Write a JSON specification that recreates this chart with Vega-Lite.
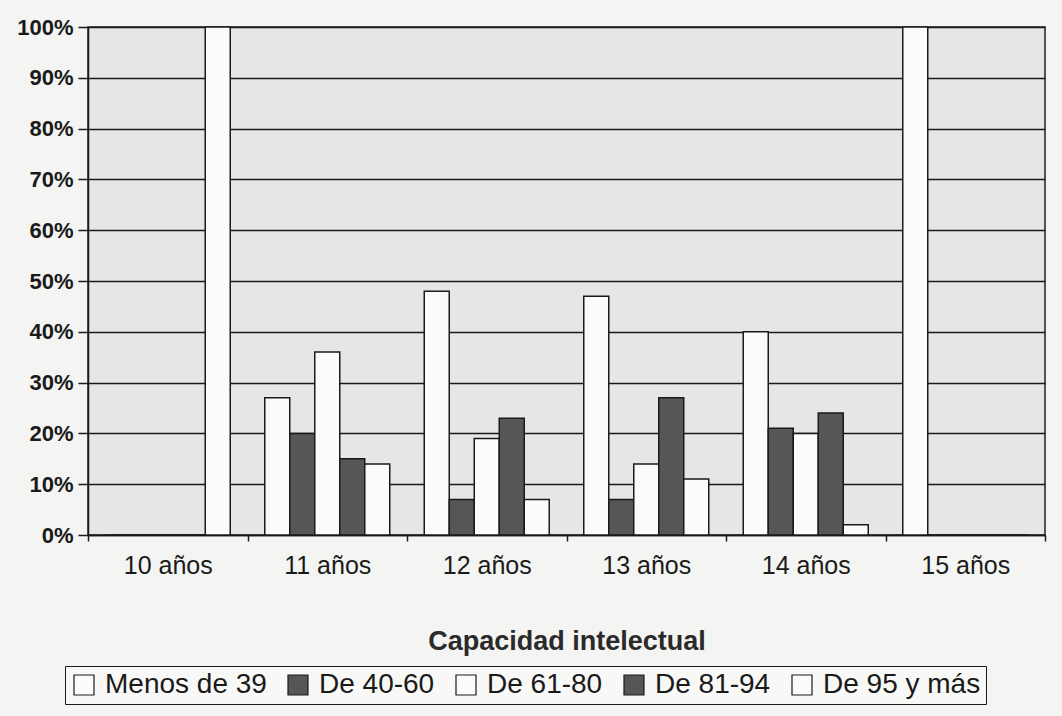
{
  "$schema": "https://vega.github.io/schema/vega-lite/v6.json",
  "autosize": "none",
  "width": 957,
  "height": 508,
  "padding": {"left": 88, "top": 27, "right": 17, "bottom": 181},
  "background": "#f4f4f2",
  "config": {
    "font": "Liberation Sans",
    "view": {"fill": "#e6e6e4", "stroke": "#222", "strokeWidth": 1.5}
  },
  "data": {
    "values": [
      {"edad": "10 años", "grupo": "Menos de 39", "valor": 0},
      {"edad": "10 años", "grupo": "De 40-60", "valor": 0},
      {"edad": "10 años", "grupo": "De 61-80", "valor": 0},
      {"edad": "10 años", "grupo": "De 81-94", "valor": 0},
      {"edad": "10 años", "grupo": "De 95 y más", "valor": 1.0},
      {"edad": "11 años", "grupo": "Menos de 39", "valor": 0.27},
      {"edad": "11 años", "grupo": "De 40-60", "valor": 0.20},
      {"edad": "11 años", "grupo": "De 61-80", "valor": 0.36},
      {"edad": "11 años", "grupo": "De 81-94", "valor": 0.15},
      {"edad": "11 años", "grupo": "De 95 y más", "valor": 0.14},
      {"edad": "12 años", "grupo": "Menos de 39", "valor": 0.48},
      {"edad": "12 años", "grupo": "De 40-60", "valor": 0.07},
      {"edad": "12 años", "grupo": "De 61-80", "valor": 0.19},
      {"edad": "12 años", "grupo": "De 81-94", "valor": 0.23},
      {"edad": "12 años", "grupo": "De 95 y más", "valor": 0.07},
      {"edad": "13 años", "grupo": "Menos de 39", "valor": 0.47},
      {"edad": "13 años", "grupo": "De 40-60", "valor": 0.07},
      {"edad": "13 años", "grupo": "De 61-80", "valor": 0.14},
      {"edad": "13 años", "grupo": "De 81-94", "valor": 0.27},
      {"edad": "13 años", "grupo": "De 95 y más", "valor": 0.11},
      {"edad": "14 años", "grupo": "Menos de 39", "valor": 0.40},
      {"edad": "14 años", "grupo": "De 40-60", "valor": 0.21},
      {"edad": "14 años", "grupo": "De 61-80", "valor": 0.20},
      {"edad": "14 años", "grupo": "De 81-94", "valor": 0.24},
      {"edad": "14 años", "grupo": "De 95 y más", "valor": 0.02},
      {"edad": "15 años", "grupo": "Menos de 39", "valor": 1.0},
      {"edad": "15 años", "grupo": "De 40-60", "valor": 0},
      {"edad": "15 años", "grupo": "De 61-80", "valor": 0},
      {"edad": "15 años", "grupo": "De 81-94", "valor": 0},
      {"edad": "15 años", "grupo": "De 95 y más", "valor": 0}
    ]
  },
  "mark": {"type": "bar", "stroke": "#1a1a1a", "strokeWidth": 1.5},
  "encoding": {
    "x": {
      "field": "edad",
      "type": "nominal",
      "sort": null,
      "scale": {"paddingInner": 0, "paddingOuter": 0},
      "axis": {
        "title": "Capacidad intelectual",
        "titleFontSize": 27,
        "titleFontWeight": "bold",
        "titleColor": "#2a2a2a",
        "titlePadding": 50,
        "labelAngle": 0,
        "labelFontSize": 25,
        "labelColor": "#1a1a1a",
        "labelPadding": 12,
        "ticks": true,
        "tickBand": "extent",
        "tickSize": 6,
        "tickColor": "#1a1a1a",
        "tickWidth": 1.5,
        "domainColor": "#1a1a1a",
        "domainWidth": 1.5
      }
    },
    "xOffset": {
      "field": "grupo",
      "type": "nominal",
      "scale": {"domain": ["Menos de 39", "De 40-60", "De 61-80", "De 81-94", "De 95 y más"], "paddingInner": 0, "paddingOuter": 0.69}
    },
    "y": {
      "field": "valor",
      "type": "quantitative",
      "scale": {"domain": [0, 1]},
      "axis": {
        "title": null,
        "format": ".0%",
        "values": [0, 0.1, 0.2, 0.3, 0.4, 0.5, 0.6, 0.7, 0.8, 0.9, 1.0],
        "labelFontSize": 22,
        "labelFontWeight": "bold",
        "labelColor": "#1a1a1a",
        "labelPadding": 5,
        "tickColor": "#1a1a1a",
        "tickSize": 10,
        "tickWidth": 1.5,
        "domainColor": "#1a1a1a",
        "domainWidth": 1.5,
        "grid": true,
        "gridColor": "#1a1a1a",
        "gridWidth": 1.5
      }
    },
    "fill": {
      "field": "grupo",
      "type": "nominal",
      "scale": {
        "domain": ["Menos de 39", "De 40-60", "De 61-80", "De 81-94", "De 95 y más"],
        "range": ["#fbfbfb", "#565656", "#fbfbfb", "#565656", "#fbfbfb"]
      },
      "legend": {
        "title": null,
        "orient": "none",
        "legendX": -23,
        "legendY": 639,
        "direction": "horizontal",
        "columns": 5,
        "columnPadding": 17,
        "symbolType": "square",
        "symbolSize": 400,
        "symbolStrokeColor": "#1a1a1a",
        "symbolStrokeWidth": 1.2,
        "labelFontSize": 28,
        "labelColor": "#1a1a1a",
        "labelLimit": 400,
        "labelOffset": 7,
        "strokeColor": "#1a1a1a",
        "fillColor": "#f8f8f6",
        "padding": 5
      }
    }
  }
}
